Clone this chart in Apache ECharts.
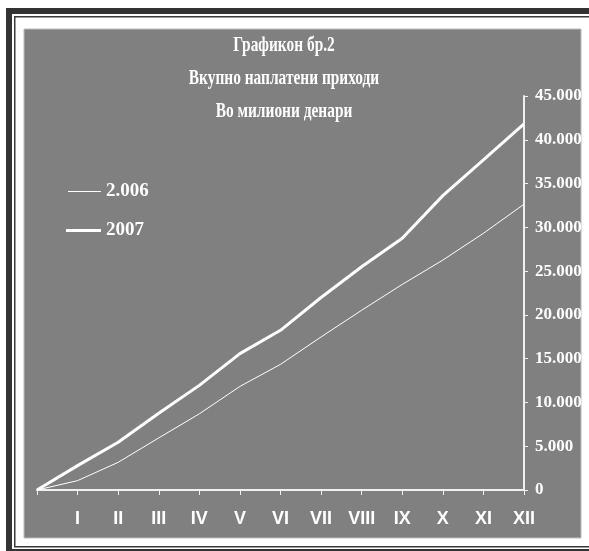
<!DOCTYPE html>
<html>
<head>
<meta charset="utf-8">
<script src="https://cdn.jsdelivr.net/npm/echarts@6/dist/echarts.min.js"></script>
<style>
  html, body { margin: 0; padding: 0; background: #fff; overflow: hidden; }
  #chart { width: 589px; height: 551px; }
</style>
</head>
<body>
<div id="chart"></div>
<script>
// месеци (прва точка е почеток, без ознака)
const months = ['', 'I', 'II', 'III', 'IV', 'V', 'VI', 'VII', 'VIII', 'IX', 'X', 'XI', 'XII']
const values2006 = [0, 1070, 3160, 5950, 8700, 11830, 14350, 17480, 20530, 23480, 26260, 29320, 32640]
const values2007 = [0, 2780, 5450, 8770, 11950, 15580, 18240, 21990, 25490, 28750, 33620, 37710, 41830]
const titleLines = ['Графикон бр.2', 'Вкупно наплатени приходи', 'Во милиони денари']

const serif = '"Liberation Serif", "Times New Roman", serif'
const narrow = '"Liberation Sans Narrow", "Arial Narrow", "Liberation Sans", sans-serif'

let myChart = echarts.init(document.getElementById('chart'))

let titleTexts = titleLines.map((t, i) => ({
  type: 'text',
  x: 284,
  y: 45 + i * 33,
  scaleX: 0.7,
  z: 10,
  style: {
    text: t,
    x: 0,
    y: 0,
    align: 'center',
    verticalAlign: 'middle',
    fill: '#fff',
    font: 'bold 22px ' + serif
  }
}))

// рамка: темни ленти (лево, горе, долу) и тенка линија
let frame = [
  { type: 'rect', z: 0, shape: { x: 6, y: 8, width: 583, height: 6 }, style: { fill: '#333' } },
  { type: 'rect', z: 0, shape: { x: 6, y: 8, width: 6, height: 543 }, style: { fill: '#333' } },
  { type: 'rect', z: 0, shape: { x: 6, y: 549, width: 583, height: 2 }, style: { fill: '#333' } },
  { type: 'rect', z: 0, shape: { x: 14, y: 16, width: 575, height: 1.5 }, style: { fill: '#3a3a3a' } },
  { type: 'rect', z: 0, shape: { x: 14, y: 16, width: 1.5, height: 531 }, style: { fill: '#3a3a3a' } },
  { type: 'rect', z: 0, shape: { x: 14, y: 546, width: 575, height: 1.5 }, style: { fill: '#3a3a3a' } },
  { type: 'rect', z: 0, shape: { x: 24, y: 29, width: 557, height: 509 }, style: { fill: '#808080', stroke: '#bdbdbd', lineWidth: 1 } }
]

let option = {
  backgroundColor: '#fff',
  animation: false,
  graphic: frame.concat(titleTexts),
  legend: [
    {
      left: 63,
      top: 177,
      icon: 'rect',
      itemWidth: 33,
      itemHeight: 1,
      data: ['2.006'],
      textStyle: { color: '#fff', fontFamily: serif, fontWeight: 'bold', fontSize: 19 }
    },
    {
      left: 61,
      top: 216,
      icon: 'rect',
      itemWidth: 35,
      itemHeight: 3,
      data: ['2007'],
      textStyle: { color: '#fff', fontFamily: serif, fontWeight: 'bold', fontSize: 19 }
    }
  ],
  grid: {
    left: 37,
    right: 65,
    top: 96,
    bottom: 61
  },
  xAxis: {
    type: 'category',
    boundaryGap: false,
    data: months,
    axisLine: { lineStyle: { color: '#f0f0f0', width: 2 } },
    axisTick: { show: true, interval: 0, length: 5, lineStyle: { color: '#f0f0f0', width: 1 } },
    axisLabel: {
      interval: 0,
      margin: 20,
      color: '#fff',
      fontFamily: narrow,
      fontWeight: 'bold',
      fontSize: 18
    },
    splitLine: { show: false }
  },
  yAxis: {
    type: 'value',
    position: 'right',
    min: 0,
    max: 45000,
    interval: 5000,
    axisLine: { show: true, lineStyle: { color: '#f0f0f0', width: 2 } },
    axisTick: { show: true, length: 4, lineStyle: { color: '#f0f0f0', width: 1 } },
    axisLabel: {
      margin: 11,
      color: '#fff',
      fontFamily: serif,
      fontWeight: 'bold',
      fontSize: 17,
      formatter: v => v === 0 ? '0' : (v / 1000).toFixed(3)
    },
    splitLine: { show: false }
  },
  series: [
    {
      name: '2.006',
      type: 'line',
      data: values2006,
      symbol: 'none',
      color: '#fff',
      lineStyle: { color: '#fff', width: 1 }
    },
    {
      name: '2007',
      type: 'line',
      data: values2007,
      symbol: 'none',
      color: '#fff',
      lineStyle: { color: '#fff', width: 3 }
    }
  ]
}
myChart.setOption(option, true)
</script>
</body>
</html>
